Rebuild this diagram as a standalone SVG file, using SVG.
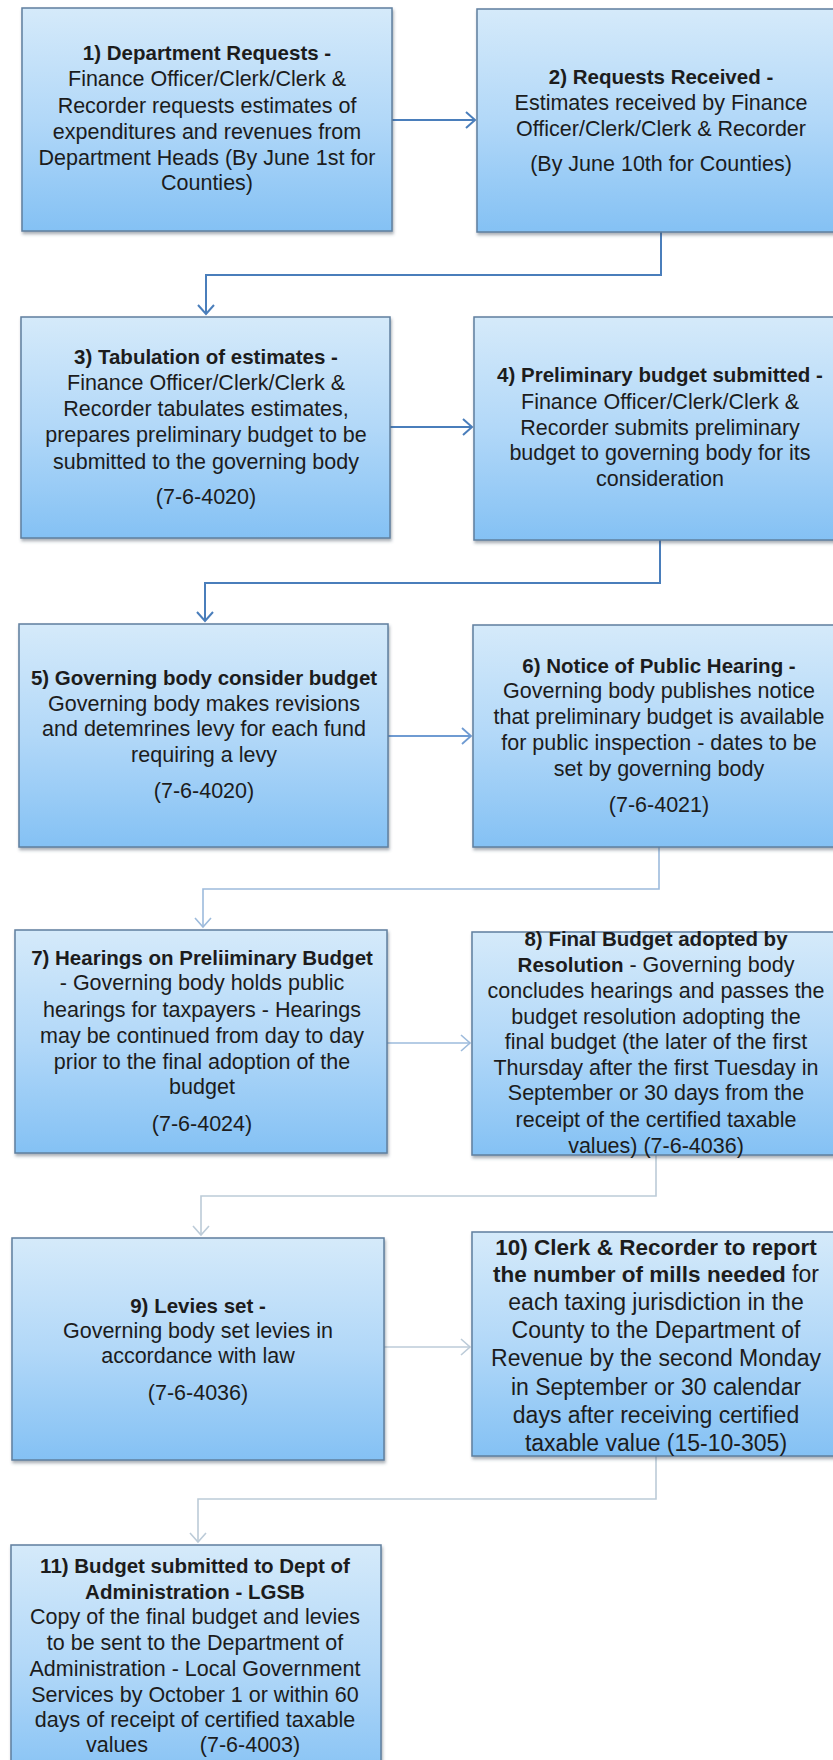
<svg xmlns="http://www.w3.org/2000/svg" width="833" height="1760" viewBox="0 0 833 1760">
<defs>
<linearGradient id="boxfill" x1="0" y1="0" x2="0" y2="1">
<stop offset="0" stop-color="#d5eafa"/>
<stop offset="0.5" stop-color="#b2d8f8"/>
<stop offset="1" stop-color="#84c1f4"/>
</linearGradient>
<filter id="shadow" x="-5%" y="-5%" width="110%" height="115%">
<feDropShadow dx="1" dy="2.5" stdDeviation="1.5" flood-color="#40505f" flood-opacity="0.45"/>
</filter>
<marker id="a1" markerUnits="userSpaceOnUse" markerWidth="14" markerHeight="20" refX="10" refY="10" orient="auto"><path d="M1,2 L10,10 L1,18" fill="none" stroke="#4a7ebb" stroke-width="2"/></marker>
<marker id="a2" markerUnits="userSpaceOnUse" markerWidth="14" markerHeight="20" refX="10" refY="10" orient="auto"><path d="M1,2 L10,10 L1,18" fill="none" stroke="#6f9bd2" stroke-width="1.8"/></marker>
<marker id="a3" markerUnits="userSpaceOnUse" markerWidth="14" markerHeight="20" refX="10" refY="10" orient="auto"><path d="M1,2 L10,10 L1,18" fill="none" stroke="#9dbbdc" stroke-width="1.6"/></marker>
<marker id="a4" markerUnits="userSpaceOnUse" markerWidth="14" markerHeight="20" refX="10" refY="10" orient="auto"><path d="M1,2 L10,10 L1,18" fill="none" stroke="#bccbd8" stroke-width="1.6"/></marker>
</defs>
<style>
.box{fill:url(#boxfill);stroke:#5f7f9e;stroke-width:1.5;filter:url(#shadow)}
.t{font-family:"Liberation Sans",Arial,sans-serif;font-size:21.5px;fill:#1c1c1c;text-anchor:middle}
.b{font-weight:bold;font-size:20.5px}
.big{font-size:23px}
.bigb{font-weight:bold;font-size:22.5px}
.c{fill:none;stroke-linejoin:miter}
.c1{stroke:#4a7ebb;stroke-width:2;marker-end:url(#a1)}
.c2{stroke:#6f9bd2;stroke-width:1.8;marker-end:url(#a2)}
.c3{stroke:#9dbbdc;stroke-width:1.6;marker-end:url(#a3)}
.c4{stroke:#bccbd8;stroke-width:1.6;marker-end:url(#a4)}
</style>
<rect width="833" height="1760" fill="#ffffff"/>

<g id="connectors">
<path class="c c1" d="M392,120 H475"/>
<path class="c c1" d="M661,232 V275 H206 V314"/>
<path class="c c1" d="M390,427 H472"/>
<path class="c c1" d="M660,540 V583 H205 V621"/>
<path class="c c2" d="M388,736 H471"/>
<path class="c c3" d="M659,847 V889 H203 V927"/>
<path class="c c3" d="M387,1043 H470"/>
<path class="c c4" d="M656,1155 V1196 H201 V1235"/>
<path class="c c4" d="M384,1347 H470"/>
<path class="c c4" d="M656,1456 V1499 H198 V1542"/>
</g>

<g id="node1">
<rect class="box" x="22" y="8" width="370" height="223"/>
<text class="t b" x="207" y="60">1) Department Requests -</text>
<text class="t" x="207" y="86">Finance Officer/Clerk/Clerk &amp;</text>
<text class="t" x="207" y="113">Recorder requests estimates of</text>
<text class="t" x="207" y="139">expenditures and revenues from</text>
<text class="t" x="207" y="165">Department Heads (By June 1st for</text>
<text class="t" x="207" y="190">Counties)</text>
</g>

<g id="node2">
<rect class="box" x="477" y="9" width="370" height="223"/>
<text class="t b" x="661" y="84">2) Requests Received -</text>
<text class="t" x="661" y="110">Estimates received by Finance</text>
<text class="t" x="661" y="136">Officer/Clerk/Clerk &amp; Recorder</text>
<text class="t" x="661" y="171">(By June 10th for Counties)</text>
</g>

<g id="node3">
<rect class="box" x="21" y="317" width="369" height="221"/>
<text class="t b" x="206" y="364">3) Tabulation of estimates -</text>
<text class="t" x="206" y="390">Finance Officer/Clerk/Clerk &amp;</text>
<text class="t" x="206" y="416">Recorder tabulates estimates,</text>
<text class="t" x="206" y="442">prepares preliminary budget to be</text>
<text class="t" x="206" y="469">submitted to the governing body</text>
<text class="t" x="206" y="504">(7-6-4020)</text>
</g>

<g id="node4">
<rect class="box" x="474" y="317" width="372" height="223"/>
<text class="t b" x="660" y="382">4) Preliminary budget submitted -</text>
<text class="t" x="660" y="409">Finance Officer/Clerk/Clerk &amp;</text>
<text class="t" x="660" y="435">Recorder submits preliminary</text>
<text class="t" x="660" y="460">budget to governing body for its</text>
<text class="t" x="660" y="486">consideration</text>
</g>

<g id="node5">
<rect class="box" x="19" y="624" width="369" height="223"/>
<text class="t b" x="204" y="685">5) Governing body consider budget</text>
<text class="t" x="204" y="711">Governing body makes revisions</text>
<text class="t" x="204" y="736">and detemrines levy for each fund</text>
<text class="t" x="204" y="762">requiring a levy</text>
<text class="t" x="204" y="798">(7-6-4020)</text>
</g>

<g id="node6">
<rect class="box" x="473" y="625" width="372" height="222"/>
<text class="t b" x="659" y="673">6) Notice of Public Hearing -</text>
<text class="t" x="659" y="698">Governing body publishes notice</text>
<text class="t" x="659" y="724">that preliminary budget is available</text>
<text class="t" x="659" y="750">for public inspection - dates to be</text>
<text class="t" x="659" y="776">set by governing body</text>
<text class="t" x="659" y="812">(7-6-4021)</text>
</g>

<g id="node7">
<rect class="box" x="15" y="930" width="372" height="223"/>
<text class="t b" x="202" y="965">7) Hearings on Preliiminary Budget</text>
<text class="t" x="202" y="990">- Governing body holds public</text>
<text class="t" x="202" y="1017">hearings for taxpayers - Hearings</text>
<text class="t" x="202" y="1043">may be continued from day to day</text>
<text class="t" x="202" y="1069">prior to the final adoption of the</text>
<text class="t" x="202" y="1094">budget</text>
<text class="t" x="202" y="1131">(7-6-4024)</text>
</g>

<g id="node8">
<rect class="box" x="472" y="932" width="372" height="223"/>
<text class="t b" x="656" y="946">8) Final Budget adopted by</text>
<text class="t" x="656" y="972"><tspan class="b">Resolution</tspan> - Governing body</text>
<text class="t" x="656" y="998">concludes hearings and passes the</text>
<text class="t" x="656" y="1024">budget resolution adopting the</text>
<text class="t" x="656" y="1049">final budget (the later of the first</text>
<text class="t" x="656" y="1075">Thursday after the first Tuesday in</text>
<text class="t" x="656" y="1100">September or 30 days from the</text>
<text class="t" x="656" y="1127">receipt of the certified taxable</text>
<text class="t" x="656" y="1153">values) (7-6-4036)</text>
</g>

<g id="node9">
<rect class="box" x="12" y="1238" width="372" height="222"/>
<text class="t b" x="198" y="1313">9) Levies set -</text>
<text class="t" x="198" y="1338">Governing body set levies in</text>
<text class="t" x="198" y="1363">accordance with law</text>
<text class="t" x="198" y="1400">(7-6-4036)</text>
</g>

<g id="node10">
<rect class="box" x="472" y="1232" width="372" height="224"/>
<text class="t bigb" x="656" y="1255">10) Clerk &amp; Recorder to report</text>
<text class="t big" x="656" y="1282"><tspan class="bigb">the number of mills needed</tspan> for</text>
<text class="t big" x="656" y="1310">each taxing jurisdiction in the</text>
<text class="t big" x="656" y="1338">County to the Department of</text>
<text class="t big" x="656" y="1366">Revenue by the second Monday</text>
<text class="t big" x="656" y="1395">in September or 30 calendar</text>
<text class="t big" x="656" y="1423">days after receiving certified</text>
<text class="t big" x="656" y="1451">taxable value (15-10-305)</text>
</g>

<g id="node11">
<rect class="box" x="11" y="1545" width="370" height="240"/>
<text class="t b" x="195" y="1573">11) Budget submitted to Dept of</text>
<text class="t b" x="195" y="1599">Administration - LGSB</text>
<text class="t" x="195" y="1624">Copy of the final budget and levies</text>
<text class="t" x="195" y="1650">to be sent to the Department of</text>
<text class="t" x="195" y="1676">Administration - Local Government</text>
<text class="t" x="195" y="1702">Services by October 1 or within 60</text>
<text class="t" x="195" y="1727">days of receipt of certified taxable</text>
<text class="t" x="195" y="1752"><tspan x="117">values</tspan><tspan x="250">(7-6-4003)</tspan></text>
</g>
</svg>
